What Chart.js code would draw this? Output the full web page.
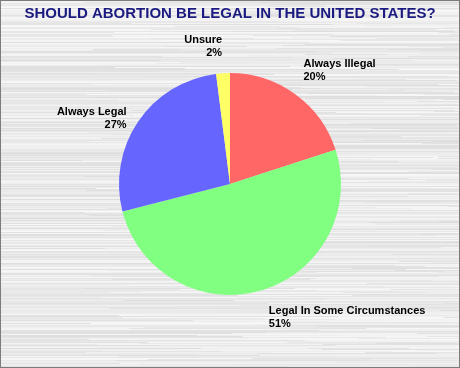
<!DOCTYPE html>
<html>
<head>
<meta charset="utf-8">
<script src="https://cdn.jsdelivr.net/npm/chart.js@4.4.0/dist/chart.umd.min.js"></script>
<style>
  html, body { margin: 0; padding: 0; background: #fff; }
  #wrap { width: 460px; height: 368px; position: relative; }
</style>
</head>
<body>
<div id="wrap"><canvas id="mycanvas" width="460" height="368"></canvas></div>
<script>
var answers = ["Always Illegal", "Legal In Some Circumstances", "Always Legal", "Unsure"];
var percents = [20, 51, 27, 2];
var sliceColors = ["#FF6666", "#80FF80", "#6666FF", "#FFFF66"];
var chartTitle = "SHOULD ABORTION BE LEGAL IN THE UNITED STATES?";

// brushed metal backdrop, deterministic streaks
function noise(n) {
  var s = Math.sin(n * 12.9898) * 43758.5453;
  return s - Math.floor(s);
}
var metalBg = {
  id: 'metalBg',
  beforeDraw: function(chart) {
    var ctx = chart.ctx, w = chart.width, h = chart.height;
    ctx.save();
    ctx.fillStyle = '#e8e8e8';
    ctx.fillRect(0, 0, w, h);
    for (var y = 0; y < h; y++) {
      var x = 0, k = 0;
      while (x < w) {
        var len = 80 + Math.floor(noise(y * 31 + k * 7 + 1) * 260);
        var g = 222 + Math.floor(noise(y * 17 + k * 13 + 3) * 26);
        ctx.fillStyle = 'rgb(' + g + ',' + g + ',' + g + ')';
        ctx.fillRect(x, y, len, 1);
        x += len; k++;
      }
    }
    ctx.strokeStyle = '#7c7c7c';
    ctx.lineWidth = 1;
    ctx.strokeRect(0.5, 0.5, w - 1, h - 1);
    ctx.restore();
  }
};

var sliceLabels = {
  id: 'sliceLabels',
  afterDatasetsDraw: function(chart) {
    var ctx = chart.ctx;
    var meta = chart.getDatasetMeta(0);
    ctx.save();
    ctx.font = 'bold 11px "Liberation Sans", Arial, sans-serif';
    ctx.fillStyle = '#000';
    ctx.textBaseline = 'alphabetic';
    meta.data.forEach(function(arc, i) {
      var p = arc.getProps(['x', 'y', 'startAngle', 'endAngle', 'outerRadius'], true);
      var mid = (p.startAngle + p.endAngle) / 2;
      var dx = Math.cos(mid), dy = Math.sin(mid);
      var ax = p.x + dx * (p.outerRadius + 14);
      var ay = p.y + dy * (p.outerRadius + 14);
      var lines = [answers[i], percents[i] + '%'];
      var lh = 13;
      var top;
      if (dy < -0.7) top = ay - lh * lines.length;
      else if (dy > 0.7) { top = ay; ax += 4; }
      else top = ay - lh * lines.length / 2 + 4;
      ctx.textAlign = dx >= 0 ? 'left' : 'right';
      lines.forEach(function(t, j) {
        ctx.fillText(t, ax, top + lh * (j + 1) - 3);
      });
    });
    ctx.restore();
  }
};

var chartdata = {
  labels: answers,
  datasets: [{
    data: percents,
    backgroundColor: sliceColors,
    borderWidth: 0
  }]
};

var ctx = document.getElementById('mycanvas');
var pieChart = new Chart(ctx, {
  type: 'pie',
  data: chartdata,
  options: {
    responsive: false,
    animation: false,
    layout: { padding: { top: 0, bottom: 73, left: 0, right: 0 } },
    plugins: {
      legend: { display: false },
      tooltip: { enabled: false },
      title: {
        display: true,
        text: chartTitle,
        color: '#1a1a80',
        font: { family: '"Liberation Sans", Arial, sans-serif', size: 15, weight: 'bold' },
        padding: { top: 5, bottom: 50 }
      }
    }
  },
  plugins: [metalBg, sliceLabels]
});
</script>
</body>
</html>
